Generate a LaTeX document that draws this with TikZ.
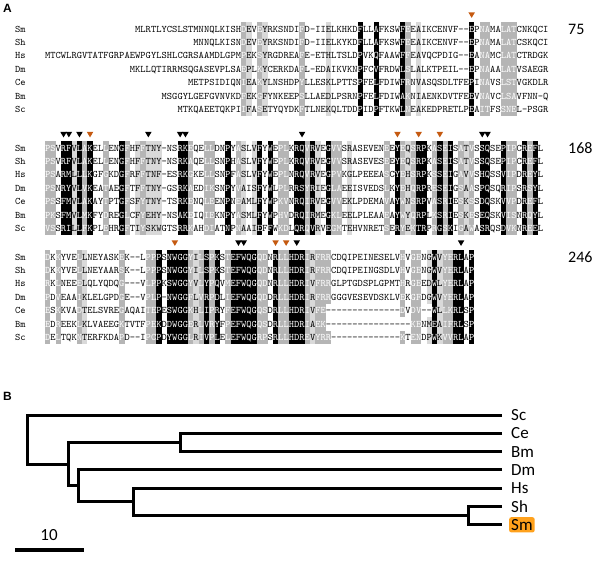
\documentclass[tikz,border=0pt]{standalone}
\usepackage{fontspec}
\newfontfamily\labfont{Carlito}
\newfontfamily\panfont{Liberation Sans}
\definecolor{sitemark}{HTML}{C55A11}
\definecolor{smfill}{HTML}{FFA11C}

% alignment grid (1 unit = 1 pixel of the figure)
\newcommand\cw{5.3}
\newcommand\xo{45}
\newcommand\pitch{13.4}
\newcount\seqcol

% shading classes: 1 light grey, 2 grey, 3 black
\newcommand\setshade[3]{\foreach \shc in {#3}{\expandafter\xdef\csname sh#1.\shc\endcsname{#2}}}
\setshade{a}{3}{59,62,67,80}
\setshade{a}{2}{37,40,48,68,82,83,86,87,88}
\setshade{a}{1}{38,41,53,70}
\setshade{b}{3}{3,4,6,8,14,25,26,34,40,42,47,48,50,53,66,70,71,74,76,82,83,86,90,92}
\setshade{b}{2}{0,1,7,11,15,18,27,30,31,36,44,45,49,54,55,64,67,69,73,75,78,80,87,88,91}
\setshade{b}{1}{5,17,19,20,21,37,39,51,57,68,79}
\setshade{c}{3}{21,23,24,25,26,30,32,35,36,37,38,39,43,46,47,48,73,77,78,80}
\setshade{c}{2}{0,2,6,14,19,20,27,29,31,34,40,41,44,45,49,51,52,53,67,69,70,75,76}
\setshade{c}{1}{7,28,50,72,74}

\def\seqput#1{%
  \pgfmathsetmacro\seqx{\xo+\cw*\the\seqcol}%
  \ifcsname sh\seqblk.\the\seqcol\endcsname
    \edef\seqcls{\csname sh\seqblk.\the\seqcol\endcsname}%
  \else\def\seqcls{0}\fi
  \if-#1\def\seqcls{0}\fi
  \ifcase\seqcls\relax\def\seqbg{white}\def\seqfg{black}%
  \or\def\seqbg{gray!30}\def\seqfg{black}%
  \or\def\seqbg{gray!58}\def\seqfg{white}%
  \or\def\seqbg{black}\def\seqfg{white}\fi
  \ifnum\seqcls>0 \fill[fill=\seqbg] (\seqx,\seqy-\pitch/2) rectangle ++(\cw,\pitch);\fi
  \node[res,text=\seqfg] at (\seqx+\cw/2,\seqy+3.1) {#1};}
\def\seqscan#1{\ifx#1\relax\else\seqput#1\advance\seqcol by 1\relax\expandafter\seqscan\fi}
% block, y, species, first column, residues
\def\seqrow#1#2#3#4#5{%
  \def\seqblk{#1}\pgfmathsetmacro\seqy{#2}%
  \node[spname] (#1#3) at (15,\seqy+3.1) {#3};
  \seqcol=#4\relax\seqscan#5\relax}
\newcommand\sitetri[3]{\fill[#3] ({\xo+\cw*(#1+0.5)-3.3},{#2-2.7}) -- ++(6.6,0) -- ({\xo+\cw*(#1+0.5)},{#2+2.9}) -- cycle;}

\begin{document}
\begin{tikzpicture}[x=1pt,y=-1pt,
    res/.style={font=\ttfamily\fontsize{10}{10}\selectfont, inner sep=0pt, anchor=base},
    spname/.style={font=\ttfamily\fontsize{10}{10}\selectfont, inner sep=0pt, anchor=base west},
    posnum/.style={font=\labfont\fontsize{16}{16}\selectfont, inner sep=0pt, anchor=west},
    panel/.style={font=\panfont\bfseries\fontsize{12}{12}\selectfont, inner sep=0pt, anchor=west},
    leaf/.style={font=\labfont\fontsize{17}{17}\selectfont, anchor=west, inner sep=2pt, xshift=7pt},
    branch/.style={line width=3pt}]
\useasboundingbox (0,0) rectangle (602,563);

\node[panel] (pA) at (3,8) {A};

% block 1
\sitetri{80}{15}{sitemark}
\seqrow{a}{29}{Sm}{17}{MLRTLYCSLSTMNNQLKISHDEVEYRKSNDIFD-IIELKHKDFLLAFKSWFEEAIKCENVF--EPNAMALATCNKQCI}
\seqrow{a}{29+\pitch}{Sh}{28}{MNNQLKISNDEVEYRKSNDIFD-IIELKYKDFLLAFKSWFEEAIKCENVF--EPNAMALATCSKQCI}
\seqrow{a}{29+2*\pitch}{Hs}{0}{MTCWLRGVTATFGRPAEWPGYLSHLCGRSAAMDLGPMPEKSYRGDREAFE-ETHLTSLDPVKQFAAWFFEAVQCPDIG--EANAMCLATCTRDGK}
\seqrow{a}{29+3*\pitch}{Dm}{16}{MKLLQTIRRMSQGASEVPLSAEPLKYCERKDAFL-EDAIKVKNPFCVFRDWLSLALKTPEIL--EPNAAALATVSAEGR}
\seqrow{a}{29+4*\pitch}{Ce}{27}{METPSIDIQNIEAKYLNSHDPYLLESKLPTTSPFELFDIWFRNVASQSDLTFEPINAVSLSTVGKDLR}
\seqrow{a}{29+5*\pitch}{Bm}{22}{MSGGYLGEFGVNVKDFEKGFYNKEEPSLLAEDLPSRNPFELFDIWAKNIAENKDVTFEEVNAVCLSAVFNN-Q}
\seqrow{a}{29+6*\pitch}{Sc}{25}{MTKQAEETQKPIIFASETYQYDKFTLNEKQLTDDPIDPFTKWLNEAKEDPRETLPEAITFSSNEL-PSGR}
\node[posnum] (n75) at (568,29) {75};

% block 2
\foreach \t in {3,4,6,19,25,26,48,82,83} {\sitetri{\t}{134.5}{black}}
\foreach \t in {8,66,70,74} {\sitetri{\t}{134.5}{sitemark}}
\seqrow{b}{148}{Sm}{0}{PSVRFVLAKELLENGFHFFTNY-NSRKEQELLDNPYASLVFYWEPLKRQVRVEGVVSRASEVENEEYEQSRPKASEISATVSSQSEPIPCREFL}
\seqrow{b}{148+\pitch}{Sh}{0}{PSVRFVLAKELLENGFHFFTNY-NSRKAQELLSNPHASLVFYWEPLKRQVRVEGVVSRASEVESEEYEQSRPKASEISATVSSQSEPIPCREFL}
\seqrow{b}{148+2*\pitch}{Hs}{0}{PSARMLLLKGFGKDGFRFFTNF-ESRKGKELLSNPFASLVFYWEPLNRQVRVEGPVKGLPEEEASCYEHSRPKSSEIGAVVSHQSSVIPDREYL}
\seqrow{b}{148+3*\pitch}{Dm}{0}{PSNRYVLVKEATAEGFTFFTNY-GSRKAEDIKSNPYVAISFYWLPLRRSYRIEGLAEEISVEDSLKYEHQRPRESEIGSAASPQSQRIPSRSYL}
\seqrow{b}{148+4*\pitch}{Ce}{0}{PSSFMVLAKAYTPTGFSFYTNY-TSRKENQLEENPNEAMLFYWPKVNRQIRVEGVVEKLPDEMAVAYWNSRPVASRIESKSSDQSKVVPDREFL}
\seqrow{b}{148+5*\pitch}{Bm}{0}{PKSFMVLMKFYDREGLCFYEHY-NSAKEIQIEKNPYASMLFYWPHVDRQIRMEGKLEELPLEAAEAYWYQRPLKSRIESKESEQSKVISNRQYL}
\seqrow{b}{148+6*\pitch}{Sc}{0}{VSSRILLFKPLEHRGFTIYSKWGTSRRKAHDIATNPNAAIEFFWKDLQRQVRVEGMTEHVNRETSERYEKTRPRGSKIGAWASRQSDVKNREEL}
\node[posnum] (n168) at (568,148) {168};

% block 3
\foreach \t in {24,43,45} {\sitetri{\t}{243}{sitemark}}
\foreach \t in {36,37,47,78} {\sitetri{\t}{243}{black}}
\seqrow{c}{257}{Sm}{0}{DKKYVELLNEYASKEK--LPPPSNWGGYILSPKSTEFWQGQDNRLLHDRIRFRRCDQIPEINESELVHVGENGWVYERLAP}
\seqrow{c}{257+\pitch}{Sh}{0}{DKKYVELLNEYAARSK--LPPPSNWGGYILSPKSTEFWQGQDNRLLHDRIRFRRCDQIPEINGSDLVHVGENGWVYERLAP}
\seqrow{c}{257+2*\pitch}{Hs}{0}{RKLNEEELQLYQDQG---VLPPKSWGGYVLYPQVMEFWQGQDNRLLHDRIVFRRGLPTGDSPLGPMTHRGEEDWLYERLAP}
\seqrow{c}{257+3*\pitch}{Dm}{0}{PDVEAAIKLELGPDGE--VPLP-NWGGFLVRPDLIEFWQGQDDRLLHDRIRFRRGGGVESEVDSKLVEKGFDGWVYERLAP}
\seqrow{c}{257+4*\pitch}{Ce}{0}{ESKKVADTELSVREGAQAITEPESWGGKHLIPRYFEFWQGQSDRLLHDRIVFE--------------DVDV--WLLKRLSP}
\seqrow{c}{257+5*\pitch}{Bm}{0}{EDREEKLKLVAEEGKTVTFPEKDDWGGERLVRYFPEFWQGQSDRLLHDRIAEK----------------KENMEAIFRLSP}
\seqrow{c}{257+6*\pitch}{Sc}{0}{DELTQKNTERFKDAPD--IPCPDYWGGLRIVPLELEFWQGRPSRLLHDREVYRR-------------KTENDPWKVVRLAP}
\node[posnum] (n246) at (568,257) {246};

% tree
\node[panel] (pB) at (3,396) {B};
\coordinate (tSc) at (502,415);
\coordinate (tCe) at (502,433.3);
\coordinate (tBm) at (502,451.6);
\coordinate (tDm) at (502,469.9);
\coordinate (tHs) at (502,488.2);
\coordinate (tSh) at (502,506.5);
\coordinate (tSm) at (502,524.8);
\coordinate (nShSm) at (468,515.65);
\coordinate (nHs) at (133,501.9);
\coordinate (nDm) at (78,485.9);
\coordinate (nCeBm) at (180,442.45);
\coordinate (nIn) at (68,464.2);
\coordinate (nRoot) at (27,439.6);
\draw[branch] (tSh) -| (nShSm) |- (tSm);
\draw[branch] (tHs) -| (nHs) |- (nShSm);
\draw[branch] (tDm) -| (nDm) |- (nHs);
\draw[branch] (tCe) -| (nCeBm) |- (tBm);
\draw[branch] (nCeBm) -| (nIn) |- (nDm);
\draw[branch] (tSc) -| (nRoot) |- (nIn);
\node[leaf] (lSc) at (tSc) {Sc};
\node[leaf] (lCe) at (tCe) {Ce};
\node[leaf] (lBm) at (tBm) {Bm};
\node[leaf] (lDm) at (tDm) {Dm};
\node[leaf] (lHs) at (tHs) {Hs};
\node[leaf] (lSh) at (tSh) {Sh};
\node[leaf, fill=smfill, rounded corners=2pt] (lSm) at (tSm) {Sm};

% scale bar
\coordinate (sbL) at (15,550);
\coordinate (sbR) at (84,550);
\draw[line width=4pt] (sbL) -- (sbR);
\node[font=\labfont\fontsize{17}{17}\selectfont] (sbT) at (49,535) {10};
\end{tikzpicture}
\end{document}
